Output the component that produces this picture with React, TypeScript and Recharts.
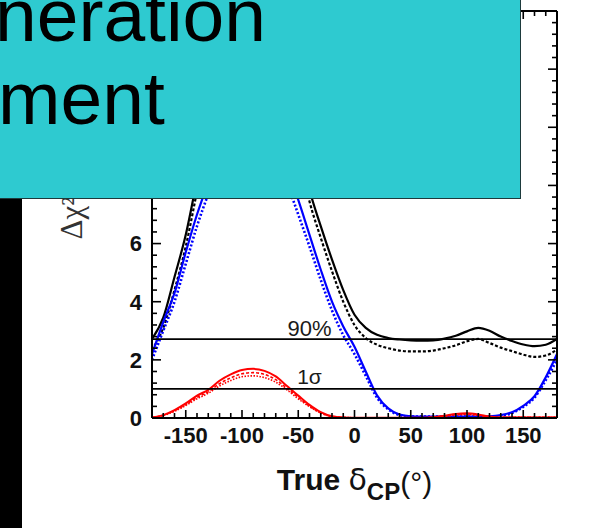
import React from 'react';
import { LineChart, Line, XAxis, YAxis, ReferenceLine, ReferenceDot, Label } from 'recharts';

// true delta_CP (degrees)
const deltaCP = [-180, -170, -160, -150, -140, -130, -120, -110, -100, -90, -80, -70, -60, -50, -40, -30, -20, -10, 0, 10, 20, 30, 40, 50, 60, 70, 80, 90, 100, 110, 120, 130, 140, 150, 160, 170, 180];

// delta chi^2 curves
const chiBlackSolid = [2.72, 3.45, 4.85, 6.3, 8.2, 10.2, 12.0, 13.3, 14.2, 14.5, 14.2, 13.2, 11.6, 9.6, 7.85, 6.6, 5.45, 4.4, 3.55, 3.1, 2.86, 2.75, 2.7, 2.67, 2.66, 2.67, 2.73, 2.83, 2.98, 3.1, 3.0, 2.8, 2.65, 2.53, 2.47, 2.52, 2.72];
const chiBlackDotted = [2.35, 3.1, 4.4, 5.9, 7.8, 9.8, 11.6, 12.9, 13.8, 14.1, 13.8, 12.8, 11.2, 9.2, 7.45, 6.2, 5.05, 4.0, 3.2, 2.75, 2.52, 2.4, 2.32, 2.29, 2.29, 2.32, 2.4, 2.5, 2.64, 2.72, 2.58, 2.42, 2.3, 2.18, 2.1, 2.15, 2.35];
const chiBlueSolid = [2.2, 3.3, 4.3, 5.7, 7.0, 8.1, 9.1, 9.9, 10.4, 10.5, 10.3, 9.6, 8.6, 7.5, 6.3, 5.1, 4.0, 3.15, 2.45, 1.6, 0.78, 0.33, 0.12, 0.06, 0.05, 0.05, 0.05, 0.05, 0.05, 0.05, 0.06, 0.1, 0.2, 0.42, 0.75, 1.4, 2.2];
const chiBlueDotted = [2.0, 3.0, 4.0, 5.3, 6.6, 7.7, 8.7, 9.5, 10.0, 10.1, 9.9, 9.2, 8.1, 7.0, 5.9, 4.75, 3.7, 2.85, 2.2, 1.45, 0.7, 0.3, 0.1, 0.05, 0.05, 0.05, 0.05, 0.05, 0.05, 0.05, 0.05, 0.07, 0.17, 0.38, 0.7, 1.3, 2.0];
const chiRedSolid = [0.02, 0.1, 0.27, 0.5, 0.77, 0.97, 1.28, 1.5, 1.65, 1.69, 1.62, 1.43, 1.1, 0.77, 0.45, 0.2, 0.06, 0.02, 0.01, 0.01, 0.01, 0.01, 0.01, 0.01, 0.01, 0.03, 0.08, 0.14, 0.16, 0.12, 0.05, 0.02, 0.02, 0.02, 0.02, 0.02, 0.02];
const chiRedDashed = [0.02, 0.09, 0.25, 0.46, 0.71, 0.9, 1.18, 1.38, 1.52, 1.56, 1.5, 1.32, 1.02, 0.71, 0.41, 0.18, 0.05, 0.02, 0.01, 0.01, 0.01, 0.01, 0.01, 0.01, 0.01, 0.03, 0.07, 0.12, 0.14, 0.1, 0.04, 0.02, 0.02, 0.02, 0.02, 0.02, 0.02];
const chiRedDotted = [0.02, 0.09, 0.23, 0.43, 0.66, 0.85, 1.1, 1.29, 1.42, 1.45, 1.39, 1.23, 0.97, 0.66, 0.39, 0.17, 0.05, 0.02, 0.01, 0.01, 0.01, 0.01, 0.01, 0.01, 0.01, 0.02, 0.06, 0.1, 0.12, 0.09, 0.04, 0.02, 0.02, 0.02, 0.02, 0.02, 0.02];

const xTicks = [-170, -160, -150, -140, -130, -120, -110, -100, -90, -80, -70, -60, -50, -40, -30, -20, -10, 0, 10, 20, 30, 40, 50, 60, 70, 80, 90, 100, 110, 120, 130, 140, 150, 160, 170];
const xLabelTicks = [-150, -100, -50, 0, 50, 100, 150];
const yTicks = [0, 0.4, 0.8, 1.2, 1.6, 2, 2.4, 2.8, 3.2, 3.6, 4, 4.4, 4.8, 5.2, 5.6, 6, 6.4, 6.8, 7.2, 7.6, 8, 8.4, 8.8, 9.2, 9.6, 10, 10.4, 10.8, 11.2, 11.6, 12, 12.4, 12.8, 13.2, 13.6];
const yMajorTicks = [0, 2, 4, 6, 8, 10, 12];
// 8, 10 and 12 sit under the slide's title box
const yLabelTicks = [0, 2, 4, 6];

const CL90 = 2.71;
const ONE_SIGMA = 1;

const data = deltaCP.map((d, i) => ({
  d,
  bs: chiBlackSolid[i],
  bd: chiBlackDotted[i],
  us: chiBlueSolid[i],
  ud: chiBlueDotted[i],
  rs: chiRedSolid[i],
  rd: chiRedDashed[i],
  ro: chiRedDotted[i],
}));

const FONT = '"Liberation Sans", Arial, Helvetica, sans-serif';
const TICK_W = 1.6;

const inList = (list: number[], v: number) => list.some((t) => Math.abs(t - v) < 1e-6);

function BottomTick({ x, y, payload }: any) {
  const v = payload.value;
  const major = xLabelTicks.includes(v);
  return (
    <g>
      <line x1={x} x2={x} y1={y} y2={y - (major ? 8 : 5)} stroke="#000" strokeWidth={TICK_W} />
      {major && (
        <text x={x} y={y + 25} textAnchor="middle" fontFamily={FONT} fontWeight="bold" fontSize={22} fill="#111">
          {v}
        </text>
      )}
    </g>
  );
}

function TopTick({ x, y, payload }: any) {
  const major = xLabelTicks.includes(payload.value);
  return <line x1={x} x2={x} y1={y} y2={y + (major ? 8 : 5)} stroke="#000" strokeWidth={TICK_W} />;
}

function LeftTick({ x, y, payload }: any) {
  const v = payload.value;
  const major = inList(yMajorTicks, v);
  return (
    <g>
      {v > 0 && <line x1={x} x2={x + (major ? 9 : 5)} y1={y} y2={y} stroke="#000" strokeWidth={TICK_W} />}
      {inList(yLabelTicks, v) && (
        <text x={x - 10} y={y} dy="0.36em" textAnchor="end" fontFamily={FONT} fontWeight="bold" fontSize={22} fill="#111">
          {v}
        </text>
      )}
    </g>
  );
}

function RightTick({ x, y, payload }: any) {
  const v = payload.value;
  if (v <= 0) return <g />;
  const major = inList(yMajorTicks, v);
  return <line x1={x} x2={x - (major ? 9 : 5)} y1={y} y2={y} stroke="#000" strokeWidth={TICK_W} />;
}

function XTitle({ viewBox }: any) {
  const cx = viewBox.x + viewBox.width / 2;
  return (
    <text x={cx} y={viewBox.y + 72} textAnchor="middle" fill="#111" fontFamily={FONT}>
      <tspan fontWeight="bold" fontSize={30}>True </tspan>
      <tspan fontSize={30} fontFamily='"DejaVu Sans", sans-serif' fontWeight="normal">δ</tspan>
      <tspan fontWeight="bold" fontSize={24} dy={10}>CP</tspan>
      <tspan fontSize={30} dy={-7}>(°)</tspan>
    </text>
  );
}

function YTitle({ viewBox }: any) {
  const tx = viewBox.x - 10;
  const ty = viewBox.y + viewBox.height / 2 + 25;
  return (
    <text x={tx} y={ty} transform={`rotate(-90 ${tx} ${ty})`} fill="#333" fontFamily='"Liberation Serif", serif' fontSize={31}>
      Δχ²
    </text>
  );
}

export default function App() {
  return (
    <div style={{ position: 'fixed', left: 0, top: 0, width: 610, height: 528, background: '#fff', overflow: 'hidden' }}>
      <div style={{ position: 'absolute', left: 0, top: 0 }}>
        <LineChart width={610} height={528} data={data} margin={{ top: 10, right: 52, bottom: 80, left: 92 }}>
          <XAxis
            dataKey="d"
            type="number"
            domain={[-180, 180]}
            allowDataOverflow
            ticks={xTicks}
            interval={0}
            height={30}
            tickSize={0}
            tickMargin={0}
            tickLine={false}
            tick={(p: any) => <BottomTick {...p} />}
            axisLine={{ stroke: '#000', strokeWidth: 2 }}
          >
            <Label content={(p: any) => <XTitle {...p} />} />
          </XAxis>
          <XAxis
            xAxisId="top"
            orientation="top"
            dataKey="d"
            type="number"
            domain={[-180, 180]}
            allowDataOverflow
            ticks={xTicks}
            interval={0}
            height={1}
            tickSize={0}
            tickMargin={0}
            tickLine={false}
            tick={(p: any) => <TopTick {...p} />}
            axisLine={{ stroke: '#000', strokeWidth: 2 }}
          />
          <YAxis
            type="number"
            domain={[0, 14]}
            allowDataOverflow
            ticks={yTicks}
            interval={0}
            width={60}
            tickSize={0}
            tickMargin={0}
            tickLine={false}
            tick={(p: any) => <LeftTick {...p} />}
            axisLine={{ stroke: '#000', strokeWidth: 2 }}
          >
            <Label content={(p: any) => <YTitle {...p} />} />
          </YAxis>
          <YAxis
            yAxisId="right"
            orientation="right"
            type="number"
            domain={[0, 14]}
            allowDataOverflow
            ticks={yTicks}
            interval={0}
            width={1}
            tickSize={0}
            tickMargin={0}
            tickLine={false}
            tick={(p: any) => <RightTick {...p} />}
            axisLine={{ stroke: '#000', strokeWidth: 2 }}
          />

          <Line xAxisId="top" yAxisId="right" dataKey="rs" stroke="none" dot={false} isAnimationActive={false} />

          <Line type="monotone" dataKey="bs" stroke="#000" strokeWidth={2.2} dot={false} isAnimationActive={false} />
          <Line type="monotone" dataKey="bd" stroke="#000" strokeWidth={2.2} strokeDasharray="3 2" dot={false} isAnimationActive={false} />
          <Line type="monotone" dataKey="us" stroke="#0000ff" strokeWidth={2.2} dot={false} isAnimationActive={false} />
          <Line type="monotone" dataKey="ud" stroke="#0000ff" strokeWidth={2.6} strokeDasharray="2 2" dot={false} isAnimationActive={false} />
          <Line type="monotone" dataKey="rs" stroke="#ff0000" strokeWidth={2} dot={false} isAnimationActive={false} />
          <Line type="monotone" dataKey="rd" stroke="#ff0000" strokeWidth={1.6} strokeDasharray="3 2" dot={false} isAnimationActive={false} />
          <Line type="monotone" dataKey="ro" stroke="#ff0000" strokeWidth={1.6} strokeDasharray="1.5 1.5" dot={false} isAnimationActive={false} />

          <ReferenceLine y={CL90} stroke="#000" strokeWidth={1.8} />
          <ReferenceLine y={ONE_SIGMA} stroke="#000" strokeWidth={1.8} />
          <ReferenceDot x={-40} y={CL90} r={0} fill="none" stroke="none">
            <Label value="90%" position="top" offset={3} fontSize={22} fontFamily={FONT} fill="#1a1a1a" />
          </ReferenceDot>
          <ReferenceDot x={-40} y={ONE_SIGMA} r={0} fill="none" stroke="none">
            <Label value="1σ" position="top" offset={5} fontSize={21} fontFamily={FONT} fill="#1a1a1a" />
          </ReferenceDot>
        </LineChart>
      </div>

      <div style={{ position: 'absolute', left: 0, top: 198, width: 22, height: 330, background: '#000' }} />

      <div
        style={{
          position: 'absolute',
          left: 0,
          top: 0,
          width: 520,
          height: 198,
          background: '#2ECAD0',
          borderRight: '1px solid #1d3a3c',
          borderBottom: '1px solid #1d3a3c',
          overflow: 'hidden',
          fontFamily: FONT,
          fontSize: 75,
          lineHeight: '83px',
          color: '#000',
          whiteSpace: 'nowrap',
        }}
      >
        <div style={{ position: 'absolute', left: -5, top: -26.5 }}>neration</div>
        <div style={{ position: 'absolute', left: -2, top: 56.5 }}>ment</div>
      </div>
    </div>
  );
}
